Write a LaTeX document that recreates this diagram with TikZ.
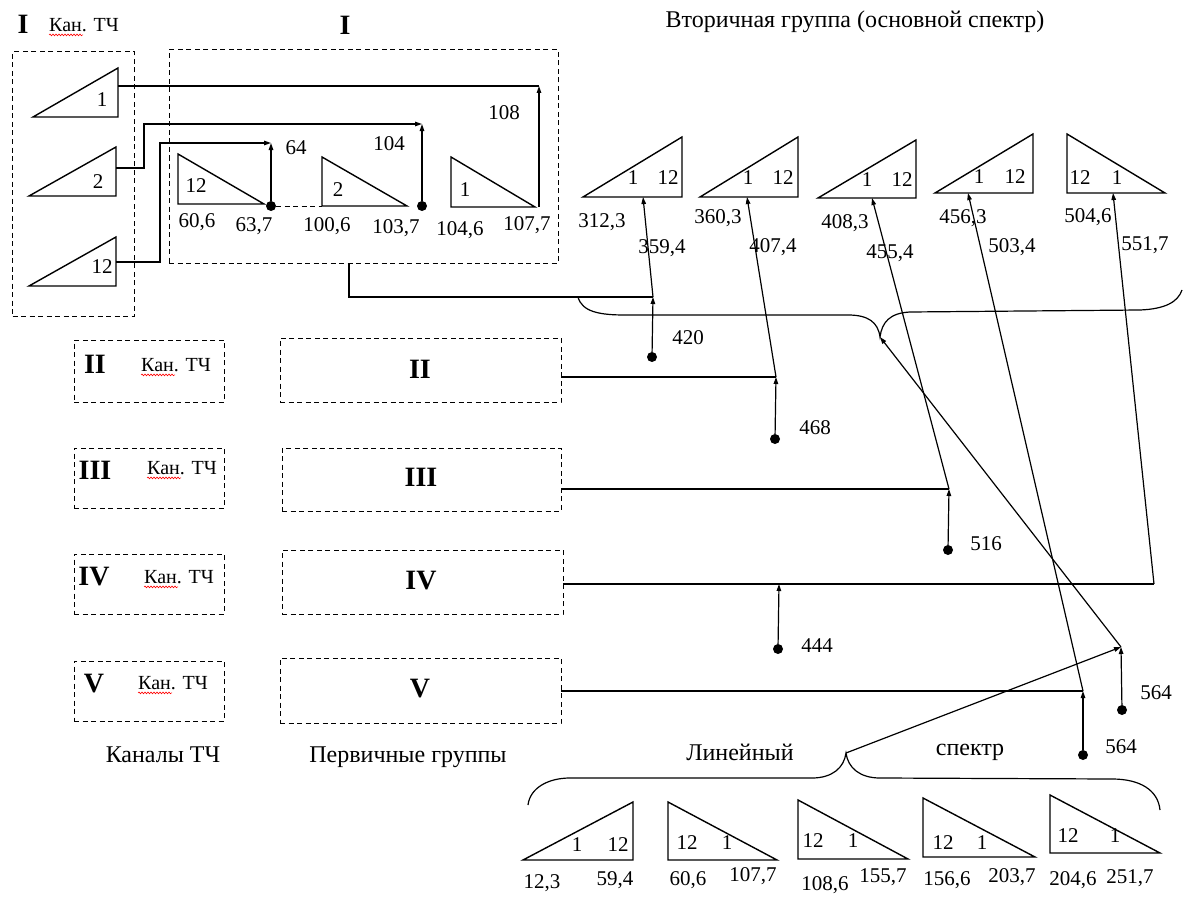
\documentclass[tikz,border=0pt]{standalone}
\usepackage{fontspec}
\setmainfont{Liberation Serif}
\usetikzlibrary{arrows.meta,decorations.pathmorphing}
\begin{document}
\begin{tikzpicture}[x=1pt,y=-1pt,
  box/.style={draw,line width=1pt,dash pattern=on 5pt off 3.5pt},
  tri/.style={draw,line width=1.4pt,line join=miter},
  wire/.style={draw,line width=1.2pt},
  arr/.style={wire,-{Triangle[length=7pt,width=4.5pt]}},
  dotn/.style={circle,fill,inner sep=0pt,minimum size=10pt},
  num/.style={font=\fontsize{21}{24}\selectfont,inner sep=0pt},
  lab/.style={font=\fontsize{24}{28}\selectfont,inner sep=0pt},
  rom/.style={font=\fontsize{28}{30}\selectfont\bfseries,inner sep=0pt},
  kan/.style={font=\fontsize{20}{24}\selectfont,inner sep=0pt},
  squig/.style={draw=red,line width=0.6pt,decorate,decoration={snake,amplitude=0.9pt,segment length=3pt}},
]
\fill[white] (0,0) rectangle (1187,899);
\useasboundingbox (0,0) rectangle (1187,899);

% ---------- titles ----------
\node[rom] (tI) at (23,24) {I};
\node[kan] (kI) at (84,25) {Кан. ТЧ};
\draw[squig] ([yshift=-3pt]kI.south west) -- ++(34,0);
\node[rom] (tgI) at (345,25) {I};
\node[lab] (title) at (855,22) {Вторичная группа (основной спектр)};

% ---------- channel box I ----------
\node[box,minimum width=122pt,minimum height=264pt,inner sep=0pt] (boxch) at (73.5,184) {};
\draw[tri] (33,117) -- (118,117) -- (118,68) -- cycle;
\draw[tri] (29,196) -- (116,196) -- (116,147) -- cycle;
\draw[tri] (29,286) -- (116,286) -- (116,237) -- cycle;
\node[num] (ch1) at (102,100) {1};
\node[num] (ch2) at (98,182) {2};
\node[num] (ch12) at (102,267) {12};

% ---------- group box I ----------
\node[box,minimum width=389pt,minimum height=213pt,inner sep=0pt] (boxgI) at (363.5,156.5) {};
\draw[tri] (178,154) -- (178,204) -- (264,204) -- cycle;
\draw[tri] (322,157) -- (322,206) -- (407,206) -- cycle;
\draw[tri] (451,157) -- (451,207) -- (535,207) -- cycle;
\node[num] (g12) at (196,186) {12};
\node[num] (g2) at (338,190) {2};
\node[num] (g1) at (465,190) {1};
\node[num] (n606) at (197,222) {60,6};
\node[num] (n637) at (254,226) {63,7};
\node[num] (n1006) at (327,226) {100,6};
\node[num] (n1037) at (396,228) {103,7};
\node[num] (n1046) at (460,230) {104,6};
\node[num] (n1077) at (527,225) {107,7};
\node[num] (n64) at (296,148) {64};
\node[num] (n104) at (389,144) {104};
\node[num] (n108) at (504,113) {108};

\coordinate (c1) at (118,86);
\coordinate (j108) at (539,86);
\coordinate (f108) at (539,207);
\draw[wire] (c1) -- (j108);
\draw[arr] (f108) -- (j108);

\coordinate (c2) at (116,168);
\coordinate (b2) at (144,124);
\coordinate (j104) at (422,124);
\node[dotn] (d104) at (422,206) {};
\draw[arr] (c2) -| (b2) -- (j104);
\draw[arr] (d104) -- (j104);

\coordinate (c12) at (116,262);
\coordinate (b12) at (160,143);
\coordinate (j64) at (271,143);
\node[dotn] (d64) at (271,206) {};
\coordinate (g2bl) at (322,206);
\draw[arr] (c12) -| (b12) -- (j64);
\draw[arr] (d64) -- (j64);
\draw[box] (d64) -- (g2bl);

% ---------- small channel boxes II-V ----------
\node[box,minimum width=150pt,minimum height=62pt,inner sep=0pt] (bch2) at (149,371) {};
\node[box,minimum width=150pt,minimum height=60pt,inner sep=0pt] (bch3) at (149,478) {};
\node[box,minimum width=150pt,minimum height=60pt,inner sep=0pt] (bch4) at (149,584) {};
\node[box,minimum width=150pt,minimum height=60pt,inner sep=0pt] (bch5) at (149,691) {};
\node[rom] (r2) at (95,364) {II};
\node[rom] (r3) at (95,470) {III};
\node[rom] (r4) at (94,577) {IV};
\node[rom] (r5) at (94,684) {V};
\node[kan] (k2) at (176,365) {Кан. ТЧ};
\node[kan] (k3) at (182,468) {Кан. ТЧ};
\node[kan] (k4) at (179,577) {Кан. ТЧ};
\node[kan] (k5) at (173,683) {Кан. ТЧ};
\draw[squig] ([yshift=-3pt]k2.south west) -- ++(34,0);
\draw[squig] ([yshift=-3pt]k3.south west) -- ++(34,0);
\draw[squig] ([yshift=-3pt]k4.south west) -- ++(34,0);
\draw[squig] ([yshift=-3pt]k5.south west) -- ++(34,0);
\node[lab] (lkan) at (163,755) {Каналы ТЧ};

% ---------- group boxes II-V ----------
\node[box,minimum width=281pt,minimum height=64pt,inner sep=0pt] (bg2) at (420.5,370) {};
\node[box,minimum width=279pt,minimum height=63pt,inner sep=0pt] (bg3) at (421.5,479.5) {};
\node[box,minimum width=281pt,minimum height=64pt,inner sep=0pt] (bg4) at (422.5,582) {};
\node[box,minimum width=281pt,minimum height=65pt,inner sep=0pt] (bg5) at (420.5,690.5) {};
\node[rom] (rg2) at (420,369) {II};
\node[rom] (rg3) at (421,477) {III};
\node[rom] (rg4) at (421,581) {IV};
\node[rom] (rg5) at (420,689) {V};
\node[lab] (lperv) at (408,757) {Первичные группы};

% ---------- secondary group triangles ----------
\draw[tri] (583,197) -- (682,197) -- (682,137) -- cycle;
\draw[tri] (700,197) -- (798,197) -- (798,137) -- cycle;
\draw[tri] (818,198) -- (916,198) -- (916,140) -- cycle;
\draw[tri] (935,193) -- (1033,193) -- (1033,134) -- cycle;
\draw[tri] (1067,134) -- (1067,193) -- (1165,193) -- cycle;
\node[num] (s1a) at (633,178) {1};
\node[num] (s1b) at (668,178) {12};
\node[num] (s2a) at (748,178) {1};
\node[num] (s2b) at (783,178) {12};
\node[num] (s3a) at (867,180) {1};
\node[num] (s3b) at (902,180) {12};
\node[num] (s4a) at (979,177) {1};
\node[num] (s4b) at (1015,177) {12};
\node[num] (s5a) at (1080,178) {12};
\node[num] (s5b) at (1117,178) {1};
\node[num] (n3123) at (602,222) {312,3};
\node[num] (n3594) at (662,248) {359,4};
\node[num] (n3603) at (718,218) {360,3};
\node[num] (n4074) at (773,247) {407,4};
\node[num] (n4083) at (845,223) {408,3};
\node[num] (n4554) at (890,253) {455,4};
\node[num] (n4563) at (963,218) {456,3};
\node[num] (n5034) at (1012,247) {503,4};
\node[num] (n5046) at (1088,217) {504,6};
\node[num] (n5517) at (1145,245) {551,7};

\coordinate (t1) at (643,197);
\coordinate (t2) at (747,197);
\coordinate (t3) at (872,198);
\coordinate (t4) at (968,193);
\coordinate (t5) at (1113,193);

% upper brace
\coordinate (ut) at (880,337);
\draw[wire] (578,297) .. controls (582,312) and (600,315) .. (625,315) -- (848,315)
  .. controls (868,315) and (878,322) .. (ut)
  .. controls (882,322) and (890,313) .. (910,312) -- (1140,310)
  .. controls (1165,309) and (1178,302) .. (1182,290);

% ---------- modulator connections ----------
\coordinate (gIb) at (349,263);
\coordinate (j420) at (653,297);
\node[dotn] (d420) at (652,357) {};
\draw[wire] (gIb) |- (j420);
\draw[arr] (d420) -- (j420);
\draw[arr] (j420) -- (t1);
\node[num] (n420) at (688,338) {420};

\coordinate (o2) at (561,377);
\coordinate (j468) at (776,377);
\node[dotn] (d468) at (775,439) {};
\draw[wire] (o2) -- (j468);
\draw[arr] (d468) -- (j468);
\draw[arr] (j468) -- (t2);
\node[num] (n468) at (815,428) {468};

\coordinate (o3) at (561,489);
\coordinate (j516) at (949,489);
\node[dotn] (d516) at (948,550) {};
\draw[wire] (o3) -- (j516);
\draw[arr] (d516) -- (j516);
\draw[arr] (j516) -- (t3);
\node[num] (n516) at (986,544) {516};

\coordinate (o4) at (563,584);
\coordinate (j551) at (1154,584);
\coordinate (j444) at (779,584);
\node[dotn] (d444) at (778,649) {};
\draw[wire] (o4) -- (j551);
\draw[arr] (j551) -- (t5);
\draw[arr] (d444) -- (j444);
\node[num] (n444) at (817,646) {444};

\coordinate (o5) at (561,691);
\coordinate (j503) at (1083,691);
\node[dotn] (d564a) at (1083,755) {};
\draw[wire] (o5) -- (j503);
\draw[arr] (d564a) -- (j503);
\draw[arr] (j503) -- (t4);
\node[num] (n564a) at (1121,747) {564};

\coordinate (j564) at (1121,647);
\node[dotn] (d564b) at (1122,710) {};
\coordinate (lt) at (846,753);
\draw[arr] (d564b) -- (j564);
\draw[arr] (lt) -- (j564);
\draw[arr] (j564) -- (ut);
\node[num] (n564b) at (1156,693) {564};

% lower brace
\draw[wire] (528,805) .. controls (530,788) and (548,778) .. (570,778) -- (812,778)
  .. controls (832,778) and (844,768) .. (lt)
  .. controls (848,768) and (860,778) .. (880,778) -- (1112,779)
  .. controls (1140,779) and (1158,790) .. (1160,810);
\node[lab] (llin) at (740,752) {Линейный};
\node[lab] (lspec) at (970,752) {спектр};

% ---------- linear spectrum triangles ----------
\draw[tri] (523,860) -- (633,860) -- (633,802) -- cycle;
\draw[tri] (668,802) -- (668,860) -- (777,860) -- cycle;
\draw[tri] (798,800) -- (798,859) -- (908,859) -- cycle;
\draw[tri] (923,798) -- (923,857) -- (1035,857) -- cycle;
\draw[tri] (1050,795) -- (1050,853) -- (1160,853) -- cycle;
\node[num] (b1a) at (577,845) {1};
\node[num] (b1b) at (618,845) {12};
\node[num] (b2a) at (687,843) {12};
\node[num] (b2b) at (727,843) {1};
\node[num] (b3a) at (813,841) {12};
\node[num] (b3b) at (853,841) {1};
\node[num] (b4a) at (943,843) {12};
\node[num] (b4b) at (982,843) {1};
\node[num] (b5a) at (1068,836) {12};
\node[num] (b5b) at (1115,836) {1};
\node[num] (n123) at (542,883) {12,3};
\node[num] (n594) at (615,880) {59,4};
\node[num] (n606b) at (688,880) {60,6};
\node[num] (n1077b) at (753,876) {107,7};
\node[num] (n1086) at (825,885) {108,6};
\node[num] (n1557) at (883,877) {155,7};
\node[num] (n1566) at (947,880) {156,6};
\node[num] (n2037) at (1012,877) {203,7};
\node[num] (n2046) at (1073,880) {204,6};
\node[num] (n2517) at (1130,878) {251,7};
\end{tikzpicture}
\end{document}
